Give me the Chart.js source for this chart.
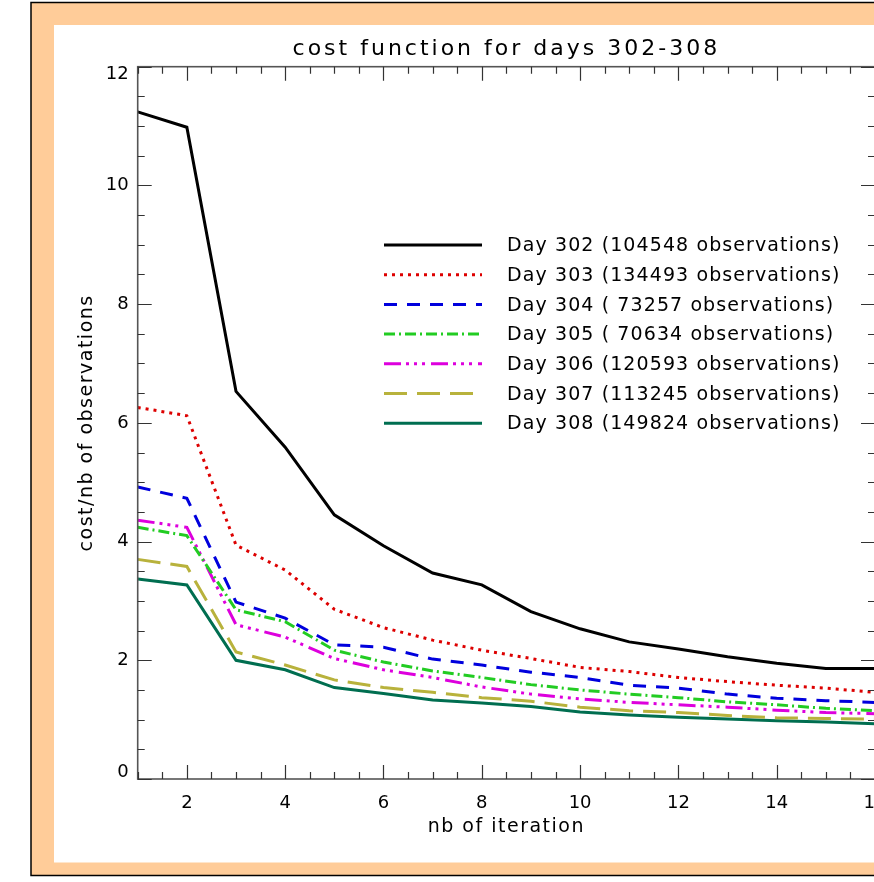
<!DOCTYPE html>
<html><head><meta charset="utf-8">
<script src="https://cdn.jsdelivr.net/npm/chart.js@4/dist/chart.umd.min.js"></script>
<style>
html,body{margin:0;padding:0;overflow:hidden;background:#fff;width:874px;height:882px}
canvas{display:block}
</style></head>
<body><canvas id="c" width="900" height="882" style="width:900px;height:882px"></canvas>
<script>
// ---- data ----
const iterations = [1,2,3,4,5,6,7,8,9,10,11,12,13,14,15,16];
const day302 = [11.24, 10.98, 6.53, 5.59, 4.45, 3.93, 3.47, 3.27, 2.82, 2.53, 2.31, 2.19, 2.06, 1.95, 1.86, 1.86];
const day303 = [6.26, 6.12, 3.94, 3.52, 2.86, 2.55, 2.34, 2.17, 2.03, 1.88, 1.81, 1.71, 1.64, 1.58, 1.53, 1.46];
const day304 = [4.92, 4.73, 2.98, 2.71, 2.26, 2.22, 2.02, 1.92, 1.80, 1.71, 1.58, 1.53, 1.43, 1.36, 1.32, 1.29];
const day305 = [4.24, 4.10, 2.85, 2.65, 2.17, 1.97, 1.82, 1.71, 1.59, 1.50, 1.43, 1.37, 1.30, 1.25, 1.19, 1.15];
const day306 = [4.36, 4.24, 2.60, 2.39, 2.03, 1.84, 1.71, 1.55, 1.43, 1.35, 1.29, 1.25, 1.21, 1.16, 1.12, 1.10];
const day307 = [3.70, 3.58, 2.14, 1.92, 1.67, 1.54, 1.46, 1.37, 1.31, 1.21, 1.15, 1.12, 1.07, 1.03, 1.02, 1.01];
const day308 = [3.37, 3.27, 2.00, 1.84, 1.54, 1.44, 1.33, 1.28, 1.22, 1.13, 1.08, 1.04, 1.01, 0.98, 0.96, 0.93];
const seriesLabels = [
  'Day 302 (104548 observations)',
  'Day 303 (134493 observations)',
  'Day 304 ( 73257 observations)',
  'Day 305 ( 70634 observations)',
  'Day 306 (120593 observations)',
  'Day 307 (113245 observations)',
  'Day 308 (149824 observations)'
];
const xTickLabels = [2,4,6,8,10,12,14,16];
const yTickLabels = [0,2,4,6,8,10,12];
const titleText = 'cost function for days 302-308';
const xTitle = 'nb of iteration';
const yTitle = 'cost/nb of observations';

// ---- styles ----
const FONT = '"DejaVu Sans", sans-serif';
const seriesValues = [day302, day303, day304, day305, day306, day307, day308];
const seriesStyles = [
  {color:'#000000', dash:[]},
  {color:'#DD0000', dash:[3,5]},
  {color:'#0000DD', dash:[13,10]},
  {color:'#22CC22', dash:[11,4,2,4]},
  {color:'#DD00DD', dash:[17,5,3,5,3,5,3,6]},
  {color:'#B8B23C', dash:[23,10]},
  {color:'#006E50', dash:[]}
];

const datasets = seriesValues.map((vals, i) => ({
  label: seriesLabels[i],
  data: vals.map((v, k) => ({x: iterations[k], y: v})),
  borderColor: seriesStyles[i].color,
  backgroundColor: seriesStyles[i].color,
  borderDash: seriesStyles[i].dash,
  borderWidth: 3,
  pointRadius: 0,
  tension: 0,
  fill: false
}));

function wrapSpacing(obj, method, spacing) {
  if (!obj || obj['_ls_' + method]) return;
  const orig = obj[method];
  obj[method] = function () {
    const c = this.ctx;
    c.save();
    c.letterSpacing = spacing;
    const r = orig.apply(this, arguments);
    c.restore();
    return r;
  };
  obj['_ls_' + method] = true;
}

const framePlugin = {
  id: 'frame',
  beforeDraw(chart) {
    const c = chart.ctx, W = chart.width;
    c.save();
    c.fillStyle = '#ffffff';
    c.fillRect(0, 0, W, chart.height);
    c.fillStyle = '#FFCC99';
    c.fillRect(31, 2.5, W, 873);
    c.fillStyle = '#ffffff';
    c.fillRect(54, 25, W, 837.5);
    c.strokeStyle = '#000';
    c.lineWidth = 1.5;
    c.beginPath();
    c.moveTo(W + 5, 2.5); c.lineTo(31, 2.5); c.lineTo(31, 875.5); c.lineTo(W + 5, 875.5);
    c.stroke();
    c.restore();
    wrapSpacing(chart.titleBlock, 'draw', '3px');
    wrapSpacing(chart.scales.x, 'drawTitle', '1.5px');
    wrapSpacing(chart.scales.y, 'drawTitle', '1.5px');
    // end labels of the y axis sit inside the axis range (as in the original plot)
    const ys = chart.scales.y;
    const items = ys.getLabelItems(chart.chartArea);
    if (items && items.length && !ys._endShifted) {
      const first = items[0], last = items[items.length - 1];
      if (first.options && first.options.translation) first.options.translation[1] -= 6.5;
      if (last.options && last.options.translation) last.options.translation[1] += 8;
      ys._endShifted = true;
    }
  },
  afterDatasetsDraw(chart) {
    const c = chart.ctx, a = chart.chartArea;
    const xs = chart.scales.x, ys = chart.scales.y;
    c.save();
    // axis box
    c.strokeStyle = '#555';
    c.lineWidth = 1.6;
    c.strokeRect(a.left, a.top, a.right - a.left, a.bottom - a.top);
    // ticks (inward), major every 2, minor every 0.5
    c.strokeStyle = '#333';
    c.lineWidth = 1.2;
    c.beginPath();
    for (let v = xs.min; v <= xs.max + 1e-9; v += 0.5) {
      const len = xTickLabels.includes(v) ? 14 : 7;
      const px = Math.round(xs.getPixelForValue(v)) + 0.5;
      c.moveTo(px, a.bottom); c.lineTo(px, a.bottom - len);
      c.moveTo(px, a.top); c.lineTo(px, a.top + len);
    }
    for (let v = ys.min; v <= ys.max + 1e-9; v += 0.5) {
      const len = yTickLabels.includes(v) ? 14 : 7;
      const py = Math.round(ys.getPixelForValue(v)) + 0.5;
      c.moveTo(a.left, py); c.lineTo(a.left + len, py);
      c.moveTo(a.right, py); c.lineTo(a.right - len, py);
    }
    c.stroke();
    // legend
    const lx0 = 384, lx1 = 482, tx = 507, ly0 = 245, lstep = 29.7;
    chart.data.datasets.forEach((ds, i) => {
      const y = ly0 + i * lstep;
      c.save();
      c.strokeStyle = ds.borderColor;
      c.lineWidth = ds.borderWidth;
      c.setLineDash(ds.borderDash || []);
      c.beginPath();
      c.moveTo(lx0, y); c.lineTo(lx1, y);
      c.stroke();
      c.restore();
      c.save();
      c.fillStyle = '#000';
      c.font = '19px ' + FONT;
      c.letterSpacing = '1.1px';
      c.textBaseline = 'middle';
      c.textAlign = 'left';
      c.fillText(ds.label, tx, y + 1.3);
      c.restore();
    });
    c.restore();
  }
};

Chart.defaults.font.family = FONT;
Chart.defaults.color = '#000';

new Chart(document.getElementById('c'), {
  type: 'line',
  data: { datasets },
  options: {
    responsive: false,
    animation: false,
    devicePixelRatio: 1,
    layout: { padding: { left: 0, right: 25, top: 0, bottom: 0 } },
    plugins: {
      legend: { display: false },
      tooltip: { enabled: false },
      title: {
        display: true, text: titleText, color: '#000', fullSize: false,
        font: { family: FONT, size: 22, weight: 'normal' },
        padding: { top: 36.3, bottom: 4 }
      }
    },
    scales: {
      x: {
        type: 'linear', min: 1, max: 16,
        grid: { display: false, drawTicks: false },
        border: { display: false },
        afterBuildTicks: s => { s.ticks = xTickLabels.map(v => ({ value: v })); },
        afterFit: s => { s.height = 103; },
        ticks: { color: '#000', font: { family: FONT, size: 18 }, padding: 13.5, maxRotation: 0, autoSkip: false },
        title: { display: true, text: xTitle, color: '#000', font: { family: FONT, size: 19 }, padding: { top: 0, bottom: 43.5 } }
      },
      y: {
        type: 'linear', min: 0, max: 12,
        grid: { display: false, drawTicks: false },
        border: { display: false },
        afterBuildTicks: s => { s.ticks = yTickLabels.map(v => ({ value: v })); },
        afterFit: s => { s.width = 137.7; },
        ticks: { color: '#000', font: { family: FONT, size: 18 }, padding: 9 },
        title: { display: true, text: yTitle, color: '#000', font: { family: FONT, size: 19 }, padding: { top: 75.5, bottom: 0 } }
      }
    }
  },
  plugins: [framePlugin]
});
</script>
</body></html>
